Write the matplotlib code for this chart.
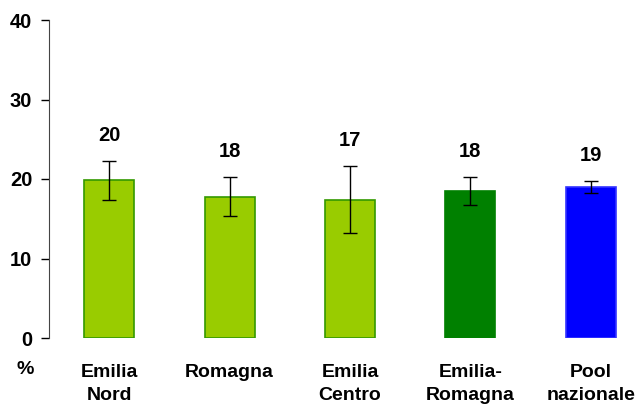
import numpy as np
import matplotlib
matplotlib.use('Agg')
import matplotlib.pyplot as plt

plt.rcParams['font.family'] = ['Liberation Sans', 'DejaVu Sans']

# data
categories = ['Emilia\nNord', 'Romagna', 'Emilia\nCentro', 'Emilia-\nRomagna', 'Pool\nnazionale']
values = [19.9, 17.7, 17.4, 18.5, 19.0]
ci_low = [17.4, 15.3, 13.2, 16.7, 18.3]
ci_high = [22.3, 20.2, 21.6, 20.3, 19.7]
labels = ['20', '18', '17', '18', '19']
colors = ['#99CC00', '#99CC00', '#99CC00', '#008000', '#0000FF']
edges = ['#339900', '#339900', '#339900', '#008000', '#3333FF']

W, H = 643, 407
fig = plt.figure(figsize=(W / 100, H / 100), dpi=100)
ax = fig.add_axes([49 / W, (H - 338) / H, 602 / W, 318 / H])

x = np.arange(len(values))
yerr = [np.array(values) - np.array(ci_low), np.array(ci_high) - np.array(values)]
ax.bar(x, values, width=0.415, color=colors, edgecolor=edges, linewidth=1.2, zorder=2)
ax.errorbar(x, values, yerr=yerr, fmt='none', ecolor='black', elinewidth=1,
            capsize=5, capthick=1, zorder=3)

for i in range(len(values)):
    ax.text(x[i], ci_high[i] + 3.2, labels[i], ha='center', va='center',
            fontsize=14.5, fontweight='bold')

ax.set_xlim(-0.5, 4.5)
ax.set_ylim(0, 40)
ax.set_yticks([0, 10, 20, 30, 40])
ax.set_xticks(x)
ax.set_xticklabels(categories, fontsize=14, fontweight='bold', linespacing=1.4)
ax.tick_params(axis='x', length=0, pad=19)
ax.tick_params(axis='y', length=6, width=1, direction='out', labelsize=14.5, pad=6)
for lab in ax.get_yticklabels():
    lab.set_fontweight('bold')

for s in ['top', 'right', 'bottom']:
    ax.spines[s].set_visible(False)
ax.spines['left'].set_color('#444444')

fig.text(25 / W, 1 - 369 / H, '%', ha='center', va='center', fontsize=14, fontweight='bold')

fig.savefig('out.png', dpi=100)
